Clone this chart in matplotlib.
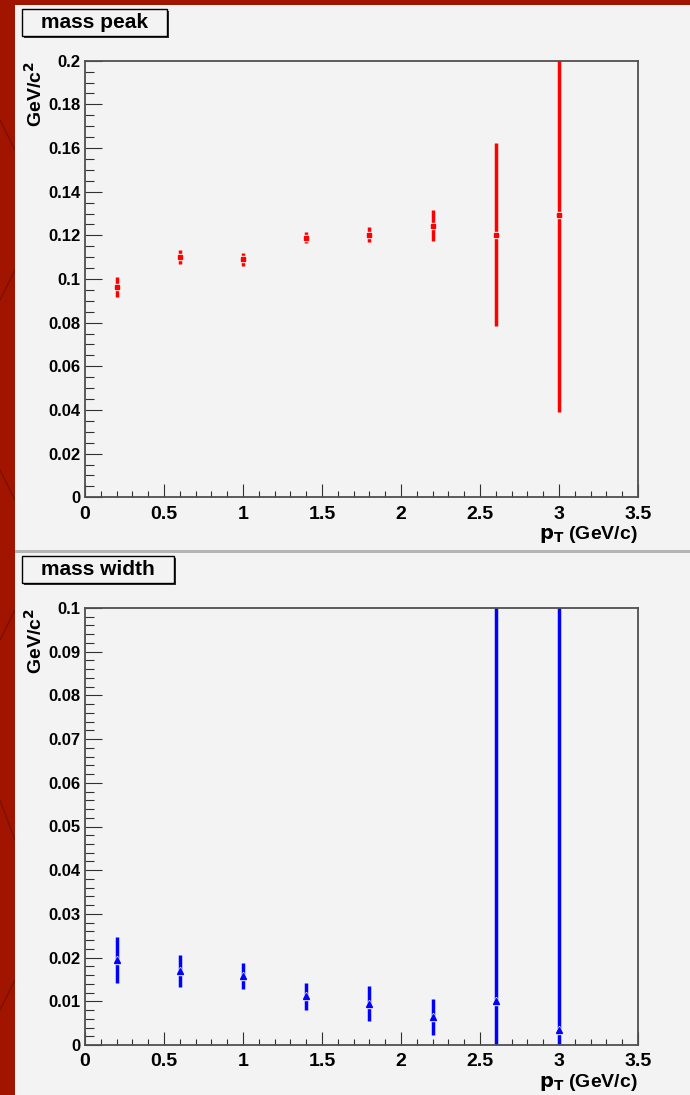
import matplotlib
matplotlib.use("Agg")
import matplotlib.pyplot as plt
from matplotlib.patches import Rectangle
from matplotlib.lines import Line2D
from matplotlib.ticker import MultipleLocator

plt.rcParams['font.family'] = ['Liberation Sans', 'DejaVu Sans']
plt.rcParams['font.weight'] = 'bold'

# pT bin centres (GeV/c)
pt = [0.2, 0.6, 1.0, 1.4, 1.8, 2.2, 2.6, 3.0]

# mass peak (GeV/c^2) and its error
peak = [0.0963, 0.1099, 0.1090, 0.1190, 0.1203, 0.1245, 0.1202, 0.1292]
peak_err = [0.0045, 0.0032, 0.0029, 0.0025, 0.0034, 0.0069, 0.0419, 0.0901]

# mass width (GeV/c^2) and its error
width = [0.0195, 0.0170, 0.0158, 0.0111, 0.0094, 0.0064, 0.0100, 0.0034]
width_err = [0.0052, 0.0037, 0.0029, 0.0032, 0.0040, 0.0042, 0.1200, 0.1200]

W, H = 690, 1095
bg = '#f3f3f3'
fig = plt.figure(figsize=(W / 100, H / 100), dpi=100, facecolor='#a01400')


def px_rect(x0, y0, x1, y1, **kw):
    # rectangle in figure pixels, y measured from the top
    return Rectangle((x0 / W, 1 - y1 / H), (x1 - x0) / W, (y1 - y0) / H,
                     transform=fig.transFigure, **kw)


# faint texture on the red canvas border
for (xa, ya, xb, yb) in [(0, 120, 15, 150), (0, 300, 15, 270), (0, 470, 15, 500),
                         (0, 640, 15, 610), (0, 800, 15, 840), (0, 1010, 15, 980)]:
    fig.lines.append(Line2D([xa / W, xb / W], [1 - ya / H, 1 - yb / H], transform=fig.transFigure,
                            color='#7d1000', lw=1.0, zorder=-6))

# pad backgrounds and separator (behind the axes)
fig.patches.append(px_rect(15, 5, W, 550, facecolor=bg, edgecolor='none', zorder=-5))
fig.patches.append(px_rect(15, 550, W, 552.5, facecolor='#b4b4b4', edgecolor='none', zorder=-5))
fig.patches.append(px_rect(15, 552.5, W, H, facecolor=bg, edgecolor='none', zorder=-5))


def title_box(x0, y0, x1, y1, text):
    fig.patches.append(px_rect(x0 + 2, y0 + 2, x1 + 2, y1 + 2, facecolor='#303030', edgecolor='none', zorder=3))
    fig.patches.append(px_rect(x0, y0, x1, y1, facecolor=bg, edgecolor='black', linewidth=1.0, zorder=4))
    fig.text((x0 + x1) / 2 / W, 1 - (y0 + y1) / 2 / H, text, ha='center', va='center',
             fontsize=15, fontweight='bold', zorder=5)


title_box(22, 9, 167, 36, 'mass peak')
title_box(22, 556, 174, 583, 'mass width')


def setup(ax, ymax, ymajor, yminor):
    ax.set_facecolor('none')
    ax.set_xlim(0, 3.5)
    ax.set_ylim(0, ymax)
    ax.xaxis.set_major_locator(MultipleLocator(0.5))
    ax.xaxis.set_minor_locator(MultipleLocator(0.1))
    ax.yaxis.set_major_locator(MultipleLocator(ymajor))
    ax.yaxis.set_minor_locator(MultipleLocator(yminor))
    ax.xaxis.set_major_formatter(plt.FuncFormatter(lambda v, p: f'{v:g}'))
    ax.yaxis.set_major_formatter(plt.FuncFormatter(lambda v, p: f'{round(v, 4):g}'))
    for s in ax.spines.values():
        s.set_color('#505050')
        s.set_linewidth(1.3)
    ax.tick_params(axis='both', which='both', direction='in', color='#303030', width=0.8,
                   top=False, right=False)
    ax.tick_params(axis='y', which='major', length=12, labelsize=12, pad=3)
    ax.tick_params(axis='y', which='minor', length=6.5)
    ax.tick_params(axis='x', which='major', length=9.6, labelsize=14, pad=6)
    ax.tick_params(axis='x', which='minor', length=4.3)
    for lab in ax.get_xticklabels() + ax.get_yticklabels():
        lab.set_fontweight('bold')
    ax.set_xlabel(r'$\mathbf{p_{T}}$ (GeV/c)', fontsize=14, fontweight='bold', loc='right', labelpad=1)
    ax.set_ylabel(r'GeV/c$^{\mathbf{2}}$', fontsize=14, fontweight='bold', loc='top', labelpad=4)
    ax.yaxis.set_label_coords(-0.07, 1.0)


def draw_points(ax, y, yerr, marker, color, ms):
    ax.errorbar(pt, y, yerr=yerr, fmt='none', ecolor=color, elinewidth=2.5, capsize=0)
    # thin gap in the bar around each marker, as ROOT draws it
    ax.plot(pt, y, linestyle='none', marker=marker, ms=ms + 1.2, mfc=bg, mec=bg)
    ax.plot(pt, y, linestyle='none', marker=marker, ms=ms, mfc=color, mec=color)


ax1 = fig.add_axes([85 / W, 1 - 497.3 / H, 553 / W, 436.6 / H])
setup(ax1, 0.2, 0.02, 0.005)
draw_points(ax1, peak, peak_err, 's', '#ff0000', 3.5)

ax2 = fig.add_axes([85 / W, 1 - 1045 / H, 553 / W, 437 / H])
setup(ax2, 0.1, 0.01, 0.002)
draw_points(ax2, width, width_err, '^', '#0000ff', 4)

fig.savefig('out.png', dpi=100, facecolor=fig.get_facecolor())
